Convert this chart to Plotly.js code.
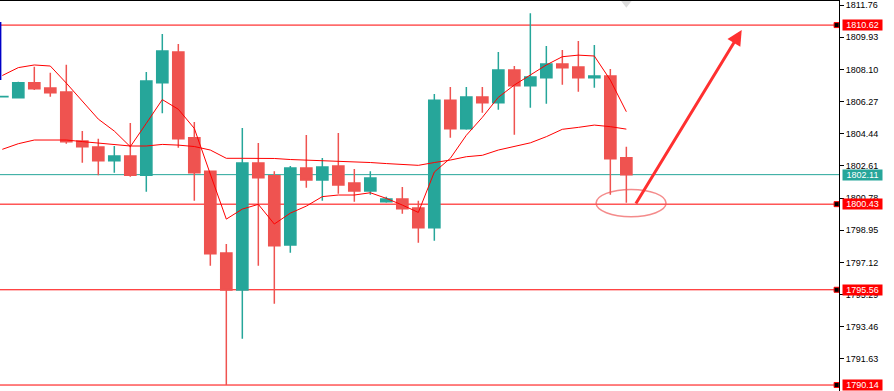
<!DOCTYPE html>
<html>
<head>
<meta charset="utf-8">
<script src="https://cdn.plot.ly/plotly-3.0.1.min.js"></script>
<style>html,body{margin:0;padding:0;background:#fff;}#chart{width:894px;height:391px;}</style>
</head>
<body>
<div id="chart"></div>
<script>
const opens  = [1806.54,1806.49,1807.34,1807.04,1806.81,1804.02,1803.68,1802.90,1803.17,1802.07,1807.34,1809.09,1804.21,1802.31,1797.65,1795.54,1802.77,1802.05,1798.10,1802.49,1801.80,1802.60,1801.63,1801.18,1800.57,1800.72,1800.21,1799.09,1806.35,1804.72,1806.53,1806.20,1808.06,1807.17,1807.62,1808.40,1808.23,1807.62,1807.72,1803.07];
const highs  = [1806.60,1807.40,1808.25,1807.91,1808.36,1804.59,1804.15,1803.74,1805.05,1807.95,1810.11,1809.54,1805.10,1802.33,1798.16,1804.76,1803.91,1802.31,1802.60,1804.36,1803.05,1804.48,1802.43,1802.31,1800.85,1801.40,1800.62,1806.70,1807.09,1807.09,1807.09,1809.09,1808.29,1811.30,1809.43,1809.20,1809.71,1809.48,1808.12,1803.70];
const lows   = [1806.50,1806.49,1806.92,1806.54,1803.87,1802.79,1802.07,1802.22,1801.99,1801.14,1805.60,1803.64,1800.62,1796.93,1790.14,1792.77,1796.93,1794.76,1797.67,1801.36,1800.62,1801.02,1800.57,1800.97,1800.51,1799.89,1798.24,1798.35,1804.21,1804.66,1805.63,1805.80,1804.38,1805.92,1806.14,1807.23,1806.83,1807.05,1800.97,1800.51];
const closes = [1806.56,1807.34,1807.00,1806.77,1803.98,1803.70,1802.90,1803.17,1802.07,1807.44,1809.14,1804.15,1802.22,1797.61,1795.54,1802.77,1801.93,1798.06,1802.49,1801.80,1802.54,1801.52,1801.18,1801.92,1800.72,1800.17,1799.09,1806.35,1804.72,1806.53,1806.20,1808.06,1807.17,1807.66,1808.40,1808.19,1807.62,1807.72,1803.01,1802.11];
const fastMA = [1807.75,1808.20,1808.35,1808.29,1807.32,1806.31,1805.27,1804.59,1803.70,1805.03,1806.38,1805.83,1804.74,1802.14,1799.58,1800.15,1800.42,1799.30,1799.92,1800.32,1800.86,1800.95,1800.95,1801.08,1800.76,1800.38,1799.96,1802.26,1803.04,1804.35,1805.37,1806.51,1807.21,1807.78,1808.35,1808.82,1808.91,1808.86,1807.49,1805.69];
const slowMA = [1803.55,1803.87,1804.08,1804.08,1804.08,1803.99,1803.91,1803.82,1803.74,1803.74,1803.83,1803.79,1803.71,1803.51,1803.04,1803.04,1803.04,1803.03,1802.97,1802.94,1802.91,1802.88,1802.86,1802.80,1802.74,1802.68,1802.64,1802.80,1802.94,1803.13,1803.21,1803.51,1803.70,1803.92,1804.27,1804.69,1804.80,1804.93,1804.84,1804.70];

const tickVals = [1811.76,1809.93,1808.10,1806.27,1804.44,1802.61,1800.78,1798.95,1797.12,1795.29,1793.46,1791.63];
const redLevels = [1810.62,1800.43,1795.56,1790.14];
const currentPrice = 1802.11;
const ellipseBox = {x0: 37.11, x1: 41.48, y0: 1799.71, y1: 1801.27};
const arrowTail = {x: 39.54, y: 1800.38};
const arrowHead = {x: 46.21, y: 1810.34};
const blueMark = {x: -0.12, y0: 1807.49, y1: 1810.79};

const idx = opens.map((_, i) => i);
const UP = '#26a69a', DN = '#ef5350', RED = '#ff0000';
const FONT = 'Liberation Sans, Arial, sans-serif';

const traces = [
  {
    type: 'candlestick', x: idx, open: opens, high: highs, low: lows, close: closes,
    increasing: {line: {color: UP, width: 1.5}, fillcolor: UP},
    decreasing: {line: {color: DN, width: 1.5}, fillcolor: DN},
    whiskerwidth: 0, hoverinfo: 'skip', showlegend: false
  },
  {type: 'scatter', mode: 'lines', x: idx, y: slowMA, line: {color: RED, width: 1}, hoverinfo: 'skip', showlegend: false},
  {type: 'scatter', mode: 'lines', x: idx, y: fastMA, line: {color: RED, width: 1}, hoverinfo: 'skip', showlegend: false},
  {type: 'scatter', mode: 'markers', x: redLevels.map(() => 52.14), y: redLevels,
   marker: {symbol: 'square', size: 5, color: '#000', line: {color: RED, width: 1}}, cliponaxis: false, hoverinfo: 'skip', showlegend: false},
  {type: 'scatter', mode: 'markers', x: [39], y: [1811.86],
   marker: {symbol: 'triangle-down', size: 9, color: '#dcdcdc'}, cliponaxis: false, hoverinfo: 'skip', showlegend: false}
];

const shapes = [];
redLevels.forEach(v => shapes.push({type: 'line', xref: 'paper', x0: 0, x1: 0.9955, yref: 'y', y0: v, y1: v, line: {color: RED, width: 1}, layer: 'below'}));
shapes.push({type: 'line', xref: 'paper', x0: 0, x1: 1, yref: 'y', y0: currentPrice, y1: currentPrice, line: {color: UP, width: 1}, layer: 'below'});
shapes.push({type: 'circle', xref: 'x', yref: 'y', x0: ellipseBox.x0, x1: ellipseBox.x1, y0: ellipseBox.y0, y1: ellipseBox.y1, line: {color: 'rgba(240,90,90,0.7)', width: 1.5}});
shapes.push({type: 'line', xref: 'x', yref: 'y', x0: blueMark.x, x1: blueMark.x, y0: blueMark.y0, y1: blueMark.y1, line: {color: '#0000c8', width: 2}});

const annotations = [];
function priceBox(v, color) {
  return {
    xref: 'paper', x: 1, xanchor: 'left', xshift: 3, yref: 'y', y: v, yanchor: 'middle',
    text: v.toFixed(2), showarrow: false, bgcolor: color, font: {family: FONT, size: 9, color: '#fff'},
    width: 37, height: 8, borderpad: 1
  };
}
redLevels.forEach(v => annotations.push(priceBox(v, RED)));
annotations.push(priceBox(currentPrice, UP));
annotations.push({
  xref: 'x', yref: 'y', x: arrowHead.x, y: arrowHead.y, axref: 'x', ayref: 'y', ax: arrowTail.x, ay: arrowTail.y,
  text: '', showarrow: true, arrowhead: 2, arrowsize: 1, arrowwidth: 3, arrowcolor: '#ff3030'
});

const layout = {
  width: 894, height: 391,
  margin: {l: 0, r: 55, t: 1, b: 0, pad: 0},
  paper_bgcolor: '#fff', plot_bgcolor: '#fff',
  showlegend: false, dragmode: false,
  boxgap: 0.3, boxgroupgap: 0,
  xaxis: {range: [-0.144, 52.29], side: 'top', showline: true, linecolor: '#000', linewidth: 1,
          showgrid: false, zeroline: false, showticklabels: false, ticks: '', rangeslider: {visible: false}, fixedrange: true},
  yaxis: {range: [1789.80, 1811.99], side: 'right', showline: true, linecolor: '#000', linewidth: 1,
          showgrid: false, zeroline: false, ticks: 'outside', ticklen: 4, tickcolor: '#000', tickwidth: 1,
          tickvals: tickVals, tickformat: '.2f', tickfont: {family: FONT, size: 9, color: '#000'}, fixedrange: true},
  shapes: shapes, annotations: annotations
};

Plotly.newPlot('chart', traces, layout, {displayModeBar: false, staticPlot: true});
</script>
</body>
</html>
